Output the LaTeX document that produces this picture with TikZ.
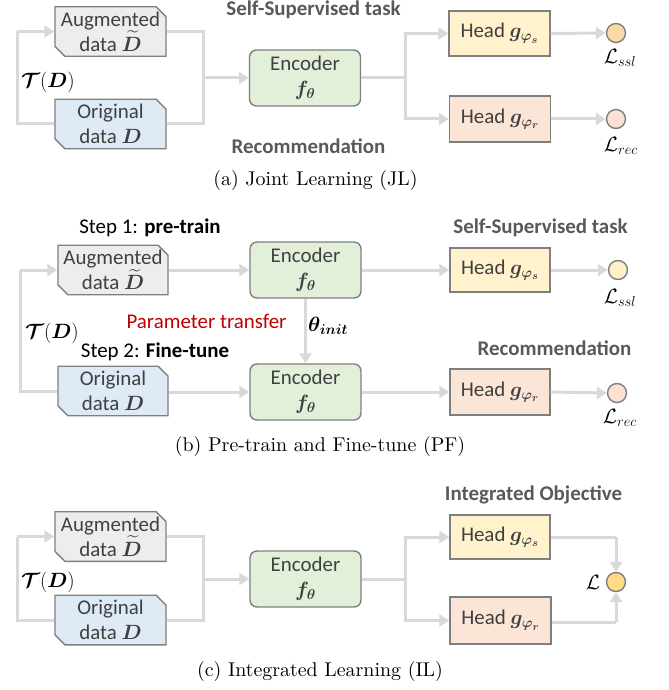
\documentclass[tikz,border=0pt]{standalone}
\usepackage{amsmath}
\usepackage{bm}
\usepackage{fontspec}
\newfontfamily\carl{Carlito}
\newfontfamily\capf{lmroman10-regular.otf}
\usetikzlibrary{arrows.meta,shapes.misc,positioning}
\definecolor{lnc}{HTML}{D9D9D9}
\definecolor{bdc}{HTML}{7F7F7F}
\definecolor{txc}{HTML}{404040}
\definecolor{lbc}{HTML}{595959}
\definecolor{augc}{HTML}{EDEDED}
\definecolor{orgc}{HTML}{DEEBF7}
\definecolor{encc}{HTML}{E2F0D9}
\definecolor{hsc}{HTML}{FFF2CC}
\definecolor{hrc}{HTML}{FBE5D6}
\definecolor{csa}{HTML}{F9D9A6}
\definecolor{csb}{HTML}{FFF0C8}
\definecolor{crc}{HTML}{FBE0D3}
\definecolor{cLc}{HTML}{FFDC84}
\definecolor{redc}{HTML}{C00000}
\tikzset{
  conn/.style={draw=lnc,line width=3bp},
  arr/.style={conn,-{Triangle[length=10bp,width=12bp]}},
  databox/.style={chamfered rectangle,chamfered rectangle corners={north east,south west},
    chamfered rectangle xsep=5bp,chamfered rectangle ysep=5bp,draw=bdc,line width=1.4bp,
    minimum width=111bp,minimum height=46bp,inner sep=0pt,align=center,
    font=\carl\fontsize{21}{25}\selectfont,text=txc},
  encbox/.style={rectangle,rounded corners=7bp,draw=bdc,line width=1.4bp,fill=encc,
    minimum width=111bp,minimum height=56bp,inner sep=0pt,align=center,
    font=\carl\fontsize{21}{25}\selectfont,text=txc},
  headbox/.style={rectangle,draw=bdc,line width=1.4bp,
    minimum width=101bp,minimum height=45bp,inner sep=0pt,
    font=\carl\fontsize{21}{24}\selectfont,text=txc},
  loss/.style={circle,draw=bdc,line width=1.4bp,minimum size=19bp,inner sep=0pt},
  bl/.style={font=\carl\bfseries\fontsize{21}{24}\selectfont,text=lbc,inner sep=0pt},
  mlab/.style={font=\fontsize{20}{24}\selectfont,inner sep=0pt},
  captxt/.style={font=\capf\fontsize{20}{24}\selectfont,inner sep=0pt},
  stp/.style={font=\carl\fontsize{21}{24}\selectfont,inner sep=0pt},
}
\begin{document}
\begin{tikzpicture}[x=1bp,y=-1bp]
\useasboundingbox (0,0) rectangle (669,690);
% ================= (a) =================
\node[databox,fill=augc] (aA) at (110.5,31.5) {Augmented\\data $\widetilde{\bm D}$};
\node[databox,fill=orgc] (oA) at (110.5,124) {Original\\data $\bm D$};
\node[encbox] (eA) at (305,78) {Encoder\\$\bm{f_{\theta}}$};
\node[headbox,fill=hsc] (hsA) at (499.5,33.5) {Head $\bm{g_{\varphi_s}}$};
\node[headbox,fill=hrc,minimum height=46bp] (hrA) at (500,119) {Head $\bm{g_{\varphi_r}}$};
\node[loss,fill=csa] (csA) at (616,33) {};
\node[loss,fill=crc] (crA) at (616,119) {};
\node[mlab] (lsA) at (620,58) {$\mathcal{L}_{ssl}$};
\node[mlab] (lrA) at (621,146) {$\mathcal{L}_{rec}$};
\node[bl] (ssA) at (313.5,10) {Self-Supervised task};
\node[bl] (rcA) at (308.5,146) {Recommendation};
\node[mlab] (tA) at (48,82) {$\bm{\mathcal{T}}(\bm D)$};
\node[captxt] (capA) at (315.5,181) {(a) Joint Learning (JL)};
\coordinate (lA) at (17,31.5);
\coordinate (jA) at (203,78);
\coordinate (bA) at (405,78);
\draw[conn] (oA.west) -| (lA);
\draw[arr] (lA) -- (aA.west);
\draw[conn] (aA.east) -| (jA);
\draw[conn] (oA.east) -| (jA);
\draw[arr] (jA) -- (eA.west);
\draw[conn] (eA.east) -- (bA);
\draw[arr] (bA) |- (hsA.west);
\draw[arr] (bA) |- (hrA.west);
\draw[arr] (hsA.east) -- (csA.west);
\draw[arr] (hrA.east) -- (crA.west);
% ================= (b) =================
\node[stp] (s1) at (150,228) {Step 1: \textbf{pre-train}};
\node[stp] (s2) at (155,352) {Step 2: \textbf{Fine-tune}};
\node[databox,fill=augc,minimum width=110bp] (aB) at (113,270) {Augmented\\data $\widetilde{\bm D}$};
\node[databox,fill=orgc,minimum width=110bp] (oB) at (113,391) {Original\\data $\bm D$};
\node[encbox] (eBt) at (305.5,270) {Encoder\\$\bm{f_{\theta}}$};
\node[encbox] (eBb) at (305.5,392) {Encoder\\$\bm{f_{\theta}}$};
\node[headbox,fill=hsc,minimum width=100bp,minimum height=44bp] (hsB) at (500,270) {Head $\bm{g_{\varphi_s}}$};
\node[headbox,fill=hrc,minimum width=100bp,minimum height=46bp] (hrB) at (500,392) {Head $\bm{g_{\varphi_r}}$};
\node[loss,fill=csb] (csB) at (618,270) {};
\node[loss,fill=crc] (crB) at (617,393) {};
\node[mlab] (lsB) at (620,298) {$\mathcal{L}_{ssl}$};
\node[mlab] (lrB) at (620,418) {$\mathcal{L}_{rec}$};
\node[bl] (ssB) at (540.5,228) {Self-Supervised task};
\node[bl] (rcB) at (554.5,348) {Recommendation};
\node[mlab] (tB) at (52,333) {$\bm{\mathcal{T}}(\bm D)$};
\node[stp,text=redc] (pt) at (206.5,321) {Parameter transfer};
\node[mlab,anchor=west] (th) at (308,326) {$\bm{\theta_{init}}$};
\node[captxt] (capB) at (320,447) {(b) Pre-train and Fine-tune (PF)};
\coordinate (lB) at (20,270);
\draw[conn] (oB.west) -| (lB);
\draw[arr] (lB) -- (aB.west);
\draw[arr] (aB.east) -- (eBt.west);
\draw[arr] (oB.east |- eBb.west) -- (eBb.west);
\draw[arr] (eBt.south) -- (eBb.north);
\draw[arr] (eBt.east) -- (hsB.west);
\draw[arr] (eBb.east) -- (hrB.west);
\draw[arr] (hsB.east) -- (csB.west);
\draw[arr] (hrB.east) -- (crB.west);
% ================= (c) =================
\node[databox,fill=augc] (aC) at (110.5,536.5) {Augmented\\data $\widetilde{\bm D}$};
\node[databox,fill=orgc] (oC) at (110.5,620) {Original\\data $\bm D$};
\node[encbox] (eC) at (305.5,579) {Encoder\\$\bm{f_{\theta}}$};
\node[headbox,fill=hsc,minimum width=100bp,minimum height=44bp] (hsC) at (500,537) {Head $\bm{g_{\varphi_s}}$};
\node[headbox,fill=hrc,minimum height=47bp] (hrC) at (500.5,620.5) {Head $\bm{g_{\varphi_r}}$};
\node[loss,fill=cLc] (cC) at (616,582) {};
\node[mlab] (lC) at (593,582) {$\mathcal{L}$};
\node[bl] (ioC) at (533.5,495) {Integrated Objective};
\node[mlab] (tC) at (48,582) {$\bm{\mathcal{T}}(\bm D)$};
\node[captxt] (capC) at (320,672) {(c) Integrated Learning (IL)};
\coordinate (lC2) at (17,536.5);
\coordinate (jC) at (203,579);
\coordinate (bC) at (405,579);
\coordinate (kS) at (616,537);
\coordinate (kR) at (616,622);
\draw[conn] (oC.west) -| (lC2);
\draw[arr] (lC2) -- (aC.west);
\draw[conn] (aC.east) -| (jC);
\draw[conn] (oC.east) -| (jC);
\draw[arr] (jC) -- (eC.west);
\draw[conn] (eC.east) -- (bC);
\draw[arr] (bC) |- (hsC.west);
\draw[arr] (bC) |- (hrC.west);
\draw[conn] (hsC.east) -- (kS);
\draw[arr] (kS) -- (cC.north);
\draw[conn] (hrC.east |- kR) -- (kR);
\draw[arr] (kR) -- (cC.south);
\end{tikzpicture}
\end{document}
